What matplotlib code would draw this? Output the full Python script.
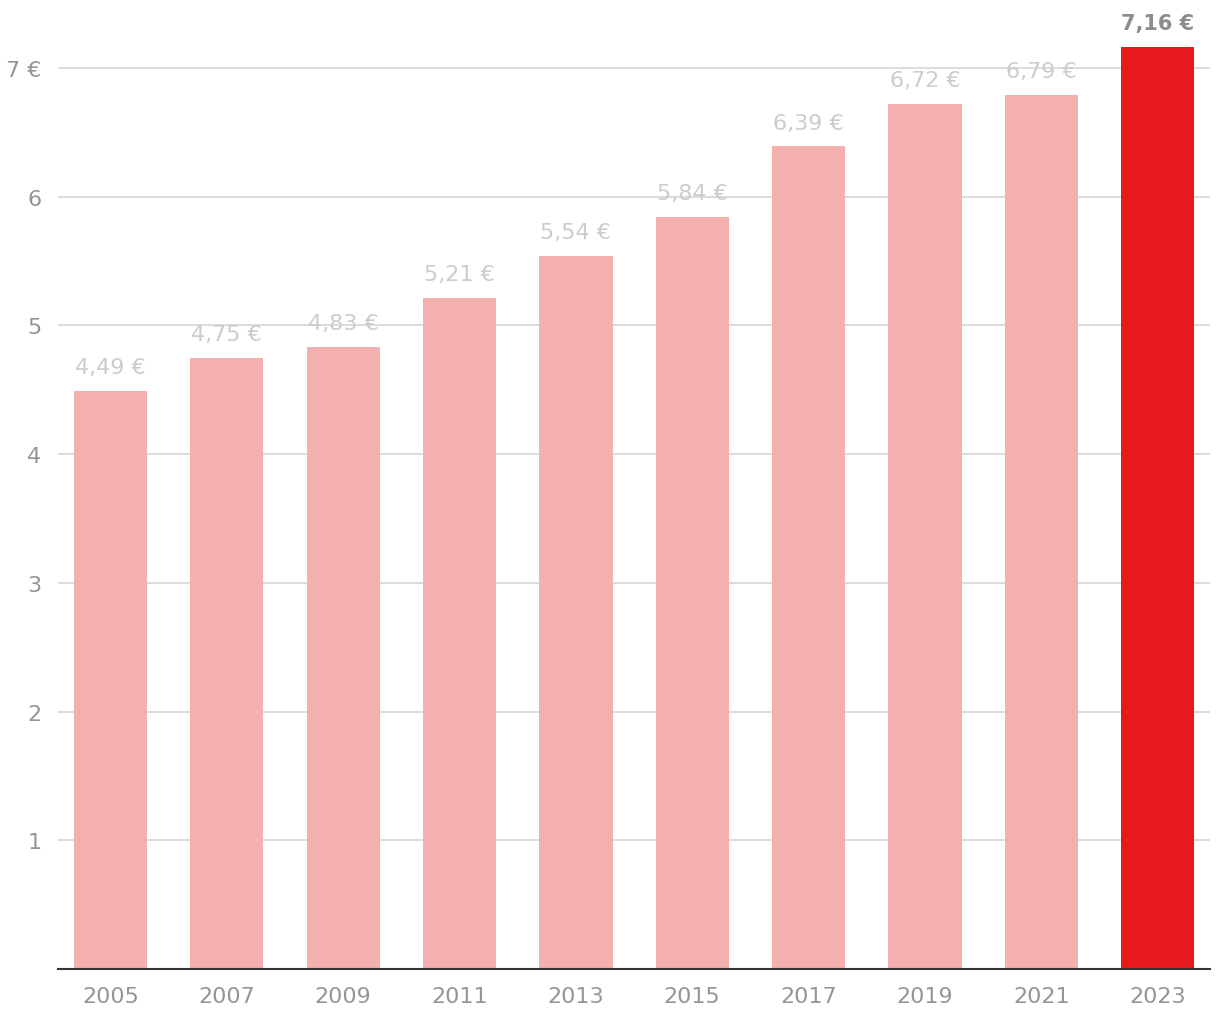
import matplotlib
matplotlib.use("Agg")
import matplotlib.pyplot as plt

years = ["2005", "2007", "2009", "2011", "2013", "2015", "2017", "2019", "2021", "2023"]
values = [4.49, 4.75, 4.83, 5.21, 5.54, 5.84, 6.39, 6.72, 6.79, 7.16]
labels = ["4,49 €", "4,75 €", "4,83 €", "5,21 €", "5,54 €", "5,84 €", "6,39 €", "6,72 €", "6,79 €", "7,16 €"]
yticks = [1, 2, 3, 4, 5, 6, 7]
yticklabels = ["1", "2", "3", "4", "5", "6", "7 €"]

fig = plt.figure(figsize=(12.2, 10.2), dpi=100)
ax = fig.add_axes([58/1220, 50/1020, (1210-58)/1220, 968/1020])

x = list(range(len(years)))
colors = ["#f4afaf"] * (len(years) - 1) + ["#e61a1d"]
ax.bar(x, values, width=0.63, color=colors, zorder=2)

ax.set_xlim(-0.451, 9.45)
ax.set_ylim(0, 7.52)
ax.set_yticks(yticks)
ax.set_yticklabels(yticklabels)
ax.set_xticks(x)
ax.set_xticklabels(years)
ax.grid(axis="y", color="#d9d9d9", linewidth=1.3, zorder=0)
ax.tick_params(axis="both", length=0, labelsize=16, colors="#959595")
ax.tick_params(axis="x", pad=12)
ax.tick_params(axis="y", pad=12)
for s in ["top", "right", "left"]:
    ax.spines[s].set_visible(False)
ax.spines["bottom"].set_color("#333333")
ax.spines["bottom"].set_linewidth(1.5)
ax.spines["bottom"].set_zorder(3)

for i, (v, lab) in enumerate(zip(values, labels)):
    last = i == len(values) - 1
    ax.annotate(lab, (i, v), xytext=(0, 10), textcoords="offset points",
                ha="center", va="bottom", fontsize=15 if last else 16,
                color="#8c8c8c" if last else "#cccccc",
                fontweight="bold" if last else "normal")

fig.savefig("out.png", dpi=100)
